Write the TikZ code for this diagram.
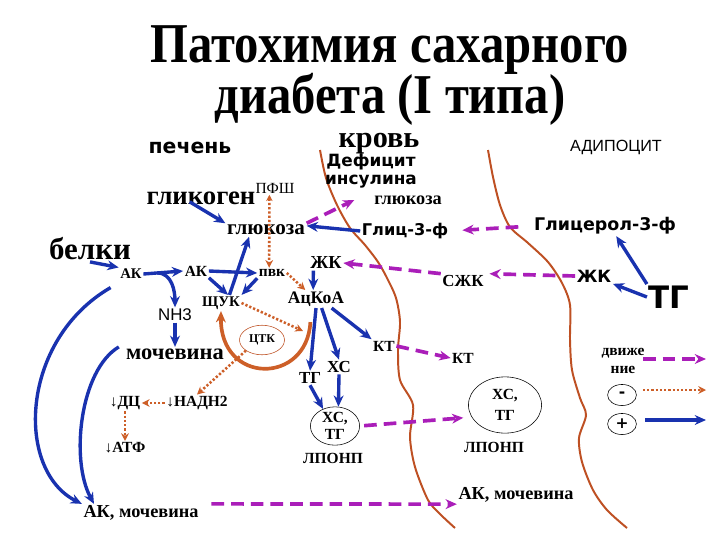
\documentclass[tikz,border=0pt]{standalone}
\usepackage{graphicx}
\usepackage{fontspec}
\setmainfont{Liberation Serif}
\newfontfamily\vsans{DejaVu Sans}
\newfontfamily\asans{Liberation Sans}
\usetikzlibrary{arrows.meta, shapes.geometric}

\definecolor{pathblue}{RGB}{25,50,175}
\definecolor{pathmag}{RGB}{170,30,185}
\definecolor{pathorange}{RGB}{205,95,40}
\definecolor{membrane}{RGB}{190,80,35}

\newcommand\fsz[1]{\fontsize{#1}{#1}\selectfont}
\newcommand\narrowtitle[1]{\scalebox{0.865}[1]{#1}}

\begin{document}
\begin{tikzpicture}[
    x=0.025cm, y=-0.025cm,
    lbl/.style={inner sep=1pt, font=\bfseries\fsz{#1}},
    lbl/.default=11,
    slbl/.style={inner sep=1pt, font=\vsans\bfseries\fsz{#1}},
    slbl/.default=12,
    oval/.style={ellipse, draw, thin, inner sep=0pt},
    incr/.style={-{Stealth[length=8pt, width=7pt]}, line width=2.4pt, pathblue},
    transp/.style={-{Stealth[length=8pt, width=7pt]}, line width=2.6pt, pathmag,
                   dash pattern=on 9pt off 5pt},
    decr/.style={-{Stealth[length=5.5pt, width=5.5pt]}, line width=1.8pt, pathorange,
                 dash pattern=on 1.6pt off 1.4pt},
    decrboth/.style={decr, {Stealth[length=4.5pt, width=4.5pt]}-{Stealth[length=5.5pt, width=5.5pt]}},
    ctkloop/.style={-{Stealth[length=8pt, width=7pt]}, line width=2.6pt, pathorange},
    membr/.style={line width=1.4pt, membrane},
]

\fill[white] (0,0) rectangle (720,540);
\useasboundingbox (0,0) rectangle (720,540);

% ── Title ──────────────────────────────────────────────────────────
\node[lbl=40, anchor=base] (title1) at (390,62)  {\narrowtitle{Патохимия сахарного}};
\node[lbl=40, anchor=base] (title2) at (390,113) {\narrowtitle{диабета (I типа)}};

% ── Membranes (liver | blood | adipocyte) ──────────────────────────
\draw[membr] plot[smooth] coordinates {(320,150) (326,178) (337,205) (350,228)
    (365,245) (378,262) (387,278) (396,298) (400,322) (398,350) (400,380)
    (413,405) (410,437) (415,467) (428,500) (440,514) (455,528)};
\draw[membr] plot[smooth] coordinates {(488,150) (493,177) (500,205) (510,227)
    (528,243) (548,262) (562,283) (570,305) (570,340) (572,370) (580,398)
    (586,415) (579,438) (582,462) (593,490) (607,510) (627,528)};

% ── Compartment headings ───────────────────────────────────────────
\node[slbl=14.5] (pechen) at (190,148) {печень};
\node[lbl=21.5]  (krov)   at (379,144) {кровь};
\node[inner sep=1pt, align=center, font=\vsans\bfseries\fontsize{12}{12.8}\selectfont]
                 (deficit) at (371,171) {Дефицит\\инсулина};
\node[inner sep=1pt, font=\asans\fsz{11.5}] (adipo) at (616,147) {АДИПОЦИТ};

% ── Liver: upper row ───────────────────────────────────────────────
\node[lbl=19] (glikogen) at (201,198) {гликоген};
\node[inner sep=1pt, font=\fsz{11}] (pfsh) at (275,188) {ПФШ};
\node[lbl=15] (gluc1)    at (266,230) {глюкоза};
\node[lbl=22] (belki)    at (90,249)  {белки};
\node[lbl=10.5] (ak1)    at (131,274) {АК};
\node[lbl=11] (ak2)      at (196,271) {АК};
\node[lbl=11] (pvk)      at (272,273) {пвк};
\node[lbl=13] (zhk1)     at (326,263) {ЖК};
\node[inner sep=1pt, font=\asans\fsz{12}] (nh3) at (175,315) {NH3};
\node[lbl=10.5] (shuk)   at (221,303) {ЩУК};
\node[lbl=12.5] (acoa)   at (316,299) {АцКоА};

% ── Liver: cycle and products ──────────────────────────────────────
\node[oval, draw=membrane, minimum width=32pt, minimum height=21pt, font=\bfseries\fsz{8.5}]
              (ctk)       at (262,340) {ЦТК};
\coordinate   (ctkin)     at (303,331);
\node[lbl=16] (mochevina) at (175,354) {мочевина};
\node[lbl=12] (tg1)       at (310,378) {ТГ};
\node[lbl=12] (xc1)       at (339,367) {ХС};
\node[lbl=11] (kt1)       at (384,346) {КТ};
\node[lbl=11] (dc)        at (125,403) {{\mdseries↓}ДЦ};
\node[lbl=11] (nadh)      at (197,403) {{\mdseries↓}НАДН2};
\node[lbl=11] (atf)       at (125,448) {{\mdseries↓}АТФ};
\node[oval, minimum width=35pt, minimum height=27pt, align=center,
      font=\bfseries\fontsize{11}{12}\selectfont]
              (ell1)      at (335,426) {ХС,\\ТГ};
\node[lbl=11] (lponp1)    at (333,458) {ЛПОНП};
\node[lbl=13] (akm1)      at (141,513) {АК, мочевина};

% ── Blood ──────────────────────────────────────────────────────────
\node[lbl=13]   (gluc2)  at (408,200) {глюкоза};
\node[slbl=11.5] (glic3f) at (405,231) {Глиц-3-ф};
\node[lbl=12]   (szhk)   at (463,281) {СЖК};
\node[lbl=11]   (kt2)    at (463,358) {КТ};
\node[oval, minimum width=52pt, minimum height=40pt, align=center,
      font=\bfseries\fontsize{11}{15}\selectfont]
                (ell2)   at (505,405) {ХС,\\ТГ};
\node[lbl=11]   (lponp2) at (494,447) {ЛПОНП};
\node[lbl=13]   (akm2)   at (516,495) {АК, мочевина};

% ── Adipocyte ──────────────────────────────────────────────────────
\node[slbl=12.4] (glicerol) at (605,226) {Глицерол-3-ф};
\node[slbl=12]   (zhk2)     at (594,276) {ЖК};
\node[slbl=22]   (tg2)      at (669,297) {ТГ};

% ── Legend ─────────────────────────────────────────────────────────
\node[align=center, inner sep=1pt, font=\bfseries\fontsize{11}{12.8}\selectfont]
      (dvizh) at (623,361) {движе\\ние};
\node[oval, minimum width=20.5pt, minimum height=15pt, font=\vsans\bfseries\fsz{11}]
      (minus) at (622,395) {-};
\node[oval, minimum width=20.5pt, minimum height=15pt, font=\vsans\bfseries\fsz{11}]
      (plus)  at (622,424) {+};
\coordinate (lgmA) at (643,359);  \coordinate (lgmB) at (706,359);
\coordinate (lgdA) at (643,390);  \coordinate (lgdB) at (706,390);
\coordinate (lgiA) at (645,420);  \coordinate (lgiB) at (706,420);

% ── Arrows: increased (blue) ───────────────────────────────────────
\draw[incr] ([xshift=-8pt, yshift=3pt]glikogen.south) -- (gluc1.north west);
\draw[incr] (belki.south) -- (ak1.north west);
\draw[incr] (ak1.east) -- coordinate[pos=0.35] (fork) (ak2.west);
\draw[incr] (fork) to[out=0, in=90] (nh3.north);
\draw[incr] (nh3.south) -- (mochevina.north);
\draw[incr] (ak2.east) -- (pvk.west);
\draw[incr] (ak2.south east) -- ([xshift=5pt]shuk.north);
\draw[incr] ([xshift=6pt]shuk.north) -- ([xshift=-12pt]gluc1.south);
\draw[incr] (pvk.south west) -- (shuk.north east);
\draw[incr] (glic3f.west) -- ([yshift=3pt]gluc1.east);
\draw[incr] ([xshift=-9pt]zhk1.south) -- ([xshift=-2pt]acoa.north);
\draw[incr] (acoa.south) -- (tg1.north);
\draw[incr] ([xshift=4pt]acoa.south) -- (xc1.north);
\draw[incr] (acoa.-30) -- (kt1.north west);
\draw[incr] (tg1.south) -- (ell1.125);
\draw[incr] (xc1.south) -- (ell1.80);
% amino acids and urea out of the liver (long left curves)
\draw[incr] ([shift={(-8,7)}]ak1.south west) .. controls (20,340) and (15,470) .. (akm1.north west);
\draw[incr] ([xshift=-4pt]mochevina.north west) .. controls (80,370) and (70,460) .. (akm1.169);
% lipolysis in the adipocyte
\draw[incr] (tg2.north west) -- ([xshift=8pt]glicerol.south);
\draw[incr] (tg2.west) -- (zhk2.south east);

% ── Arrows: movement (magenta dashed) ──────────────────────────────
\draw[transp] (gluc1.north east) -- ([xshift=-13pt]gluc2.west);
\draw[transp, shorten <=10pt, shorten >=9pt] (glicerol.west) -- (glic3f.east);
\draw[transp] (szhk.north west) -- (zhk1.east);
\draw[transp, shorten >=3pt] (zhk2.west) -- (szhk.north east);
\draw[transp] (kt1.east) -- (kt2.west);
\draw[transp, shorten <=3pt, shorten >=6pt] (ell1.east) -- (ell2.200);
\draw[transp, shorten <=8pt] (akm1.north east) -- (akm2.south west);

% ── Arrows: decreased (orange dotted) ──────────────────────────────
\draw[decrboth] ([xshift=-4pt]pfsh.south) -- ([xshift=-2pt]pvk.north);
\draw[decr] (pvk.east) -- (acoa.140);
\draw[decr] (shuk.east) -- (ctkin);
\draw[ctkloop] ([xshift=-4pt, yshift=-10pt]acoa.south) .. controls (307,385) and (220,385) .. (shuk.south);
\draw[decr] (ctk.south west) -- (nadh.north);
\draw[decr] (nadh.west) -- (dc.east);
\draw[decr] (dc.south) -- (dc.south |- atf.north);

% ── Legend arrows ──────────────────────────────────────────────────
\draw[transp] (lgmA) -- (lgmB);
\draw[decr]   (lgdA) -- (lgdB);
\draw[incr]   (lgiA) -- (lgiB);

\end{tikzpicture}
\end{document}
